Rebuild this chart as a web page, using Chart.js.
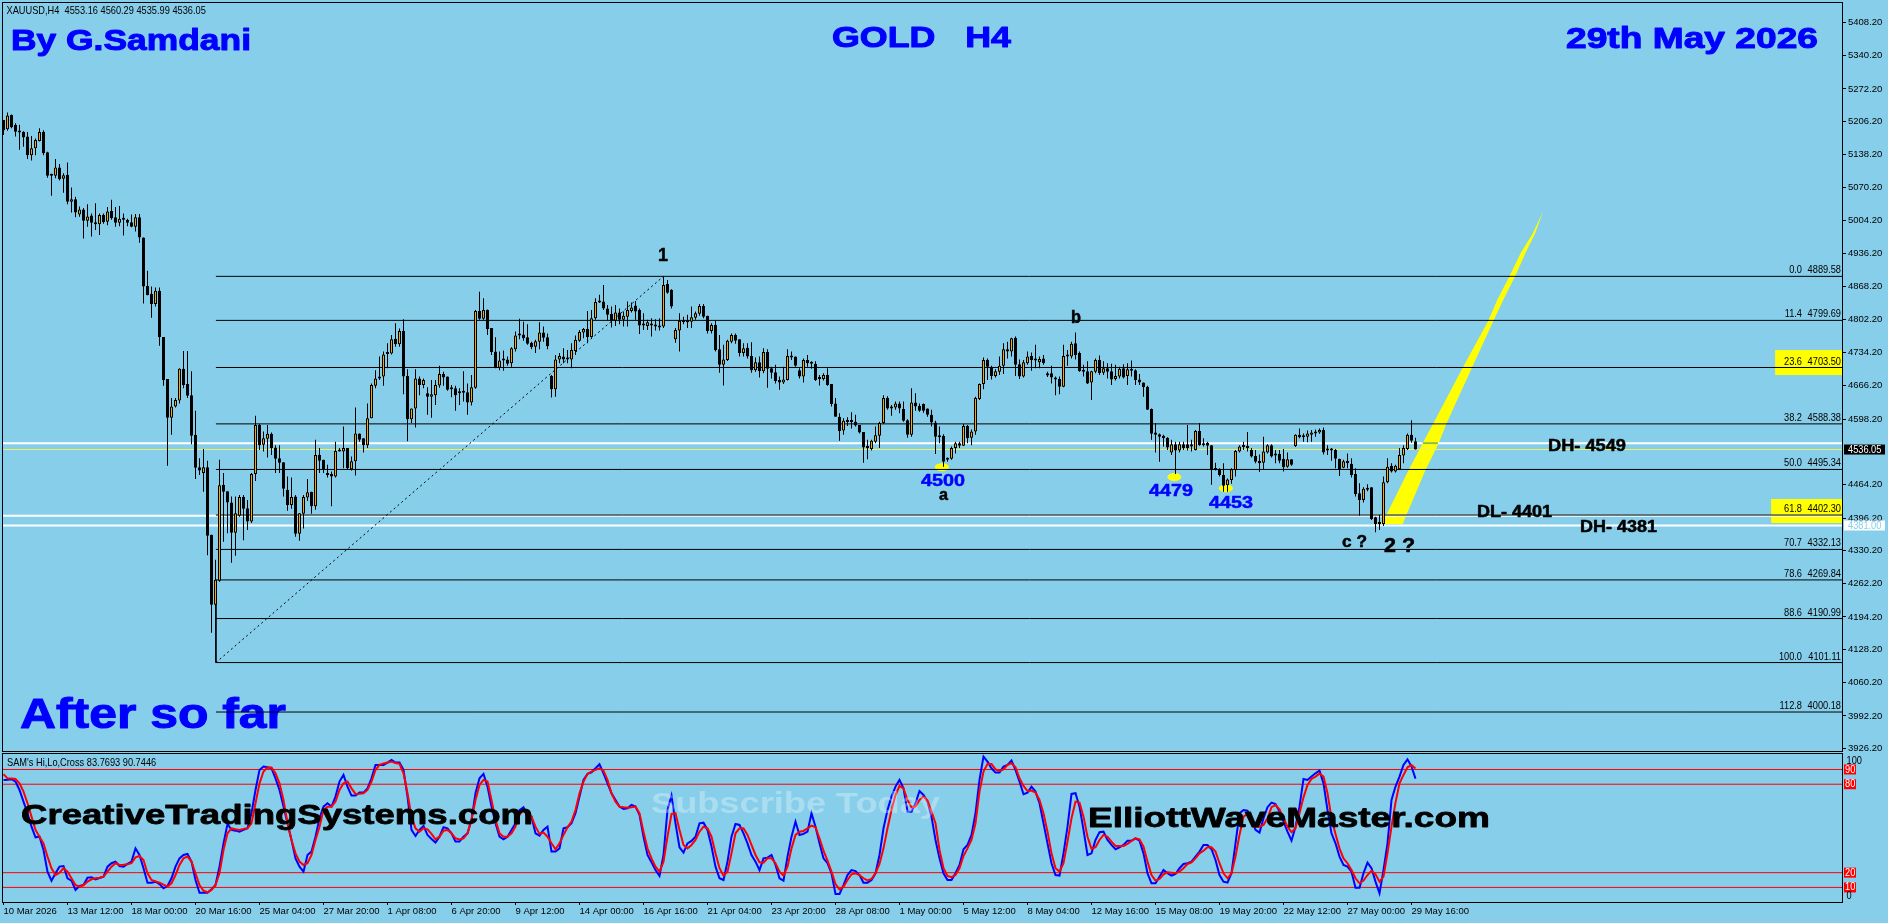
<!DOCTYPE html>
<html>
<head>
<meta charset="utf-8">
<title>GOLD H4</title>
<script src="https://cdn.jsdelivr.net/npm/chart.js@4/dist/chart.umd.min.js"></script>
<style>
  html, body { margin: 0; padding: 0; background: #87CEEB; overflow: hidden; }
  canvas { position: absolute; left: 0; }
  #priceChart { top: 0; }
  #hiLoChart { top: 752px; }
</style>
</head>
<body>
<canvas id="priceChart" width="1888" height="752"></canvas>
<canvas id="hiLoChart" width="1888" height="171"></canvas>
<script>
// 1. Data (one entry per H4 bar)
const opens = [
  5209,5190,5219,5199,5186,5185,5175,5137,5151,5166,5185,5143,5097,5095,5112,5089,
  5097,5042,5047,5016,5026,5003,5014,4999,4996,5015,5001,5023,5010,4999,5007,5005,
  5000,4991,5010,4969,4870,4854,4833,4860,4766,4680,4601,4624,4636,4701,4670,4647,
  4566,4500,4488,4500,4362,4219,4268,4464,4451,4428,4366,4401,4439,4416,4389,4486,
  4586,4546,4558,4568,4540,4518,4510,4454,4423,4440,4364,4405,4438,4450,4420,4525,
  4515,4486,4486,4481,4534,4532,4539,4496,4512,4569,4559,4545,4600,4666,4681,4685,
  4732,4732,4762,4751,4778,4686,4598,4620,4681,4668,4651,4644,4647,4667,4690,4685,
  4660,4661,4653,4653,4653,4632,4662,4819,4803,4821,4784,4736,4703,4720,4720,4712,
  4741,4769,4771,4765,4754,4746,4756,4775,4765,4686,4659,4720,4726,4724,4720,4737,
  4758,4775,4782,4766,4804,4838,4838,4824,4813,4799,4816,4801,4807,4819,4830,4821,
  4792,4788,4790,4788,4787,4787,4874,4862,4761,4779,4799,4797,4797,4805,4813,4829,
  4809,4778,4790,4741,4709,4719,4756,4770,4761,4733,4744,4727,4698,4714,4696,4735,
  4702,4694,4678,4673,4678,4727,4726,4698,4685,4719,4713,4711,4681,4680,4688,4670,
  4630,4603,4575,4595,4594,4593,4586,4572,4541,4537,4552,4564,4590,4641,4623,4622,
  4630,4619,4596,4566,4632,4625,4629,4620,4607,4591,4564,4564,4518,4517,4539,4549,
  4544,4584,4560,4573,4639,4670,4719,4705,4686,4695,4707,4741,4736,4764,4710,4685,
  4712,4727,4720,4714,4722,4692,4692,4682,4680,4664,4728,4726,4753,4733,4698,4696,
  4673,4695,4719,4693,4702,4696,4680,4685,4702,4686,4701,4698,4679,4673,4664,4619,
  4571,4567,4564,4560,4530,4547,4534,4547,4547,4547,4535,4574,4549,4550,4545,4498,
  4496,4484,4463,4474,4494,4532,4543,4543,4535,4523,4513,4509,4530,4545,4528,4527,
  4517,4501,4516,4543,4566,4564,4562,4566,4572,4571,4576,4535,4535,4535,4517,4499,
  4513,4507,4486,4447,4433,4454,4459,4398,4385,4384,4469,4503,4491,4496,4524,4537,
  4566,4553
];
const highs = [
  5209,5224,5220,5202,5199,5186,5184,5176,5171,5192,5188,5144,5099,5129,5119,5100,
  5122,5071,5052,5032,5029,5037,5018,5039,5018,5018,5031,5046,5031,5033,5018,5007,
  5016,5017,5017,4969,4901,4869,4867,4867,4766,4680,4641,4641,4702,4737,4737,4696,
  4615,4518,4537,4513,4362,4311,4515,4488,4451,4440,4440,4443,4443,4433,4488,4605,
  4588,4573,4586,4571,4545,4545,4510,4481,4479,4443,4406,4443,4476,4450,4556,4539,
  4515,4505,4491,4552,4539,4583,4539,4522,4622,4569,4559,4630,4671,4698,4726,4736,
  4753,4770,4794,4783,4802,4700,4620,4700,4685,4681,4663,4678,4678,4707,4695,4685,
  4668,4666,4661,4696,4671,4688,4821,4858,4845,4822,4784,4765,4736,4738,4726,4745,
  4777,4803,4797,4792,4756,4760,4796,4787,4773,4688,4729,4733,4743,4739,4753,4769,
  4780,4784,4819,4821,4845,4852,4872,4831,4828,4831,4824,4818,4838,4836,4839,4824,
  4814,4801,4804,4802,4804,4889,4882,4863,4784,4814,4807,4811,4828,4818,4833,4833,
  4809,4794,4799,4770,4750,4760,4773,4773,4761,4753,4753,4755,4724,4726,4743,4741,
  4705,4709,4685,4705,4741,4736,4726,4702,4722,4729,4716,4716,4688,4692,4702,4670,
  4641,4610,4600,4602,4612,4607,4586,4572,4556,4556,4583,4593,4647,4645,4627,4634,
  4634,4634,4598,4661,4651,4630,4630,4620,4617,4595,4583,4567,4520,4542,4552,4552,
  4588,4586,4577,4644,4671,4724,4722,4707,4700,4726,4753,4756,4764,4767,4720,4719,
  4736,4734,4750,4726,4729,4695,4707,4685,4685,4750,4739,4756,4775,4736,4709,4716,
  4697,4722,4728,4716,4712,4711,4709,4705,4710,4712,4718,4700,4690,4673,4666,4620,
  4590,4569,4566,4561,4556,4552,4552,4552,4586,4556,4576,4590,4559,4552,4545,4509,
  4498,4508,4477,4498,4535,4545,4552,4572,4539,4535,4526,4562,4547,4547,4535,4535,
  4537,4530,4516,4567,4579,4569,4575,4576,4577,4579,4581,4545,4539,4537,4517,4515,
  4528,4518,4498,4467,4459,4465,4459,4399,4403,4481,4518,4508,4505,4539,4545,4569,
  4596,4560
];
const lows = [
  5178,5187,5192,5175,5148,5154,5129,5126,5137,5165,5137,5091,5054,5090,5085,5060,
  5037,5020,5010,5011,4967,4991,4971,4984,4974,4997,4994,5005,4991,4992,4973,4992,
  4990,4981,4958,4834,4851,4805,4828,4748,4666,4503,4566,4622,4630,4661,4641,4547,
  4476,4484,4450,4320,4162,4219,4266,4348,4365,4305,4319,4399,4351,4372,4386,4472,
  4535,4532,4520,4525,4488,4488,4440,4411,4415,4358,4350,4375,4431,4405,4413,4488,
  4488,4479,4420,4479,4532,4498,4494,4493,4483,4552,4530,4539,4600,4661,4678,4666,
  4702,4730,4746,4746,4649,4553,4590,4581,4647,4661,4607,4601,4627,4662,4666,4656,
  4643,4615,4627,4634,4607,4626,4660,4801,4801,4770,4729,4702,4698,4697,4707,4705,
  4736,4761,4758,4750,4741,4733,4741,4756,4741,4642,4644,4712,4712,4712,4702,4729,
  4756,4763,4753,4764,4801,4835,4821,4799,4785,4788,4792,4787,4787,4816,4801,4772,
  4780,4780,4767,4779,4779,4784,4854,4824,4754,4736,4792,4784,4784,4801,4809,4804,
  4773,4773,4736,4693,4667,4717,4753,4752,4726,4726,4722,4693,4695,4683,4692,4662,
  4681,4671,4658,4670,4677,4719,4705,4681,4673,4705,4701,4676,4667,4677,4666,4624,
  4603,4554,4566,4584,4579,4583,4569,4509,4516,4534,4549,4539,4588,4617,4605,4617,
  4610,4593,4560,4562,4615,4613,4611,4603,4583,4527,4549,4501,4511,4515,4528,4539,
  4543,4549,4545,4566,4637,4659,4678,4679,4683,4688,4690,4722,4726,4686,4680,4683,
  4709,4697,4702,4702,4709,4684,4671,4647,4649,4663,4707,4722,4720,4695,4685,4670,
  4637,4692,4688,4688,4681,4668,4677,4681,4681,4668,4685,4668,4668,4644,4617,4556,
  4530,4511,4542,4535,4525,4486,4530,4535,4534,4532,4534,4544,4542,4525,4464,4493,
  4481,4450,4450,4466,4481,4530,4535,4532,4520,4508,4490,4496,4528,4520,4508,4508,
  4491,4499,4503,4541,4559,4552,4551,4552,4562,4568,4526,4525,4513,4498,4482,4498,
  4498,4479,4440,4401,4428,4451,4392,4367,4372,4380,4467,4489,4489,4494,4508,4535,
  4550,4536
];
const closes = [
  5188,5218,5194,5185,5183,5173,5137,5151,5168,5184,5141,5095,5095,5112,5088,5096,
  5042,5047,5020,5026,5003,5012,4999,4996,5015,5000,5022,5008,4999,5007,5005,4999,
  4991,5010,4969,4869,4851,4833,4860,4765,4678,4601,4624,4637,4701,4668,4646,4564,
  4499,4493,4500,4360,4219,4270,4463,4450,4428,4366,4406,4439,4415,4389,4486,4586,
  4545,4559,4568,4539,4517,4509,4456,4423,4439,4364,4406,4439,4449,4420,4525,4513,
  4496,4484,4481,4533,4532,4539,4498,4512,4569,4556,4545,4600,4668,4681,4685,4730,
  4731,4761,4751,4778,4685,4598,4620,4681,4668,4678,4644,4649,4668,4690,4683,4658,
  4659,4647,4651,4652,4632,4663,4819,4803,4821,4782,4735,4703,4718,4718,4711,4743,
  4769,4773,4763,4752,4745,4757,4775,4764,4747,4659,4720,4727,4720,4720,4739,4760,
  4776,4782,4766,4804,4837,4836,4824,4811,4799,4816,4801,4809,4821,4826,4818,4789,
  4789,4796,4789,4787,4785,4872,4856,4828,4780,4799,4796,4796,4806,4814,4829,4807,
  4778,4790,4739,4709,4720,4758,4770,4758,4733,4743,4726,4698,4714,4696,4735,4701,
  4693,4676,4673,4679,4727,4724,4707,4685,4719,4712,4711,4678,4680,4688,4668,4629,
  4603,4574,4595,4592,4592,4585,4571,4540,4539,4554,4565,4590,4641,4620,4620,4630,
  4620,4595,4566,4632,4624,4615,4615,4607,4591,4562,4561,4511,4515,4539,4549,4544,
  4584,4559,4573,4641,4670,4719,4705,4686,4696,4707,4741,4736,4763,4709,4685,4714,
  4726,4719,4718,4721,4712,4687,4683,4679,4664,4727,4726,4752,4729,4696,4695,4671,
  4696,4719,4692,4702,4695,4679,4686,4701,4683,4700,4697,4678,4673,4663,4617,4568,
  4566,4562,4559,4540,4547,4534,4547,4539,4539,4542,4574,4545,4545,4544,4494,4494,
  4484,4462,4475,4496,4533,4542,4541,4539,4522,4511,4508,4532,4545,4522,4524,4513,
  4500,4516,4505,4566,4561,4561,4569,4571,4569,4576,4530,4534,4534,4517,4496,4512,
  4508,4484,4445,4433,4456,4458,4394,4384,4384,4469,4501,4491,4503,4525,4539,4566,
  4554,4536
];

// blue line of the lower panel
const fastLine = [
  82.9,83.1,83.4,81.8,76.1,68.2,60.3,51.2,44,44.4,35.4,20.7,14.6,19.6,24.1,24.5,16.2,14.6,8.3,11,
  11.6,16.6,16.9,15.5,16.4,17.3,24.1,26.4,27.5,24.5,24.1,25.9,27.5,36.5,32,23,13.2,13.2,13.9,12.3,
  9.4,11,16.2,24.1,29.7,32,32.7,27.5,15,6.4,6.4,6.4,8.7,11.6,24.1,39.9,53,49,48.5,47.8,
  49,50.1,60.3,76.1,89.7,92,91.5,90.8,84,76.1,64.8,53.5,42.2,29.7,24.1,20.7,32,34.3,44.4,56.9,
  64.8,67.1,64.8,71.6,81.8,86.3,78.4,72.3,72.3,74.3,74.3,77.2,84,93.1,93.1,93.1,94.7,96.5,94.7,94.7,
  89.7,71.6,49,44.9,49,51.7,45.6,42.9,40.4,44.4,50.8,50.1,46.7,41.1,41.1,44.4,46.7,55.8,73.9,84,
  87,78.4,64.8,53.5,44.4,42.6,44.4,49,53.5,62.5,64.4,58,58,46.7,45.1,49,51.2,34.3,34.3,36.5,
  50.1,50.8,53.5,60.3,71.6,82.9,87,88.1,90.8,93.5,87.4,80.6,73.9,69.3,64.8,63.2,63.7,
  65.9,64.8,59.2,44.4,32,27,21.8,17.8,32,62.5,72.3,53.5,37.2,33.6,39.9,41.5,44.4,53.5,53.9,49,
  37.7,24.1,16.2,15,27.5,44.4,53,52.4,46.7,39.9,32,27.5,21.8,29.7,30.2,32,25.2,16.2,14.6,30.9,
  44.4,54.6,45.6,46.3,47.8,60.3,51.2,39.9,29.7,26.4,19.6,5.5,5.5,11.6,18.4,21.8,21.1,18.4,13.2,13.2,
  15,19.6,32,50.1,62.5,71.6,78.4,82.9,77.2,61.4,61.4,67.1,75.4,72.7,68.2,58,42.2,29.7,19.6,15,
  15,19.6,25.2,35.9,38.8,45.6,60.3,82.9,98.7,95.3,90.8,87.9,87.9,92,93.1,96,89.7,81.8,73.2,74.3,
  78.4,75,67.1,53.5,39.9,26.4,18.4,18,33.1,51.2,73.4,73.9,64.8,49,32,33.1,42.2,47.4,47.8,42.2,
  38.8,35.9,37.2,38.8,41.7,41.7,43.3,41.7,33.1,19.6,12.8,12.8,17.3,21.8,19.6,18,19.1,23,25.9,26.4,
  27.5,30.9,34.3,38.8,38.8,35.9,28.6,18.4,13.9,13.2,19.6,39.9,60.3,62.5,62.1,55.8,49,47.2,
  56.9,64.4,67.5,66.6,61.4,54.6,47.8,41.7,51.2,64.8,83.6,82.9,85.2,87.4,89.2,80.6,62.5,46.7,39.9,30.9,
  25.2,24.1,20.7,9.8,9.8,19.6,26.8,23,13.9,6,21.8,39.9,69.3,78.4,85.2,93.1,96.9,92,83.8
];
// red line of the lower panel
const slowLine = [
  86.8,84,83.8,83.6,80.6,75,67.1,58,49,44.4,39.9,30.9,23,18.4,20,23,20.7,16.2,11.6,10.5,
  11.6,13.9,15.5,16.2,16.6,17.3,20.7,24.1,26.4,25.2,25.4,25.7,26.4,30.4,31.3,28.6,19.6,15,14.1,13.2,
  11.9,10.5,12.8,18.4,25.2,29.7,30.9,27.5,19.6,11.6,7.8,6.7,8.3,11.6,19.6,35.4,46.7,50.1,49.4,49,
  49.7,50.1,53.5,67.1,80.6,88.6,91.3,91.3,87.4,80.6,69.3,53.5,42.2,33.1,27.5,25.2,26.4,32,42.2,51.2,
  62.5,64.8,64.8,68.2,76.1,80.6,81.8,77.2,73.4,73.6,73.9,76.1,81.8,89.7,93.1,94,94.7,95.3,94.4,93.8,
  87.4,73.9,58,50.1,47.8,50.1,49.4,46.3,42.6,44.4,48.5,49,46.7,43.3,42.6,43.3,46.7,55.8,69.3,79.5,
  82.9,81.8,69.3,55.8,46.7,44.4,44.4,46.7,51.2,59.2,62.5,62.1,58,51.2,46.3,47.2,44.4,39.9,35.9,39.9,
  45.6,50.8,54.6,62.5,73.9,81.8,87,88.6,89.7,90.8,89.2,82.9,73.9,68.2,64.8,64.4,64.1,
  64.4,64.8,60.3,47.8,36.5,29.7,24.1,20.7,27.5,44.4,59.8,60.3,49,38.8,36.5,38.8,42.2,47.8,51.2,50.1,
  44.4,33.1,23,18,20.7,33.1,46.7,50.1,50.1,45.6,38.8,32,27,26.8,29.7,29.7,26.4,20.7,18,24.1,
  36.5,45.6,47.8,48.3,50.1,51.9,50.8,43.3,34.9,28.2,20.7,12.3,8.7,10.5,15,18.9,19.6,18.4,16.2,14.8,
  15.7,19.6,25.9,36.5,50.1,62.5,72.7,78.8,77.2,69.3,64.4,64.8,69.3,71.6,68.9,61.4,53.5,35.4,23,17.8,
  16.9,18.4,23,31.3,36.5,42.2,53.5,75,88.6,93.8,93.8,90.1,89,90.1,93.1,94.2,91.5,84,78.8,75.4,
  75.7,74.3,69.3,60.3,47.8,33.1,23,20.7,26.4,41.1,56.9,68.2,67.5,58,44.4,36.1,37.2,42.2,45.6,44.4,
  41.1,38.1,38.1,38.1,39.5,41.5,43.3,42.6,37.7,27.5,18.4,14.6,15.7,18.9,20.2,20,19.6,20.7,23,25.9,
  27,29.7,33.1,34.9,37.2,37.2,34.3,26.4,19.6,16.2,19.6,30.9,45.6,58,59.8,56.2,51.2,51.2,
  52.4,56.9,64.4,65.9,63,56.9,51.2,47.4,50.1,60.3,71.1,79.5,83.6,85.2,87.2,85.2,73.9,56.9,46.3,36.5,
  29.7,26.4,21.8,16.2,12.8,14.6,18.4,21.4,18.9,13.9,17.3,33.1,51.2,67.5,80.6,86.3,91.5,93.1,90.7
];

// fibonacci levels
const fibPercents = ['0.0','11.4','23.6','38.2','50.0','61.8','70.7','78.6','88.6','100.0','112.8'];
const fibPrices = [4889.58,4799.69,4703.50,4588.38,4495.34,4402.30,4332.13,4269.84,4190.99,4101.11,4000.18];

// axis ticks
const priceTicks = [5408.2,5340.2,5272.2,5206.2,5138.2,5070.2,5004.2,4936.2,4868.2,4802.2,4734.2,4666.2,4598.2,
  4464.2,4396.2,4330.2,4262.2,4194.2,4128.2,4060.2,3992.2,3926.2];
const dateBars = [0,16,32,48,64,80,96,112,128,144,160,176,192,208,224,240,256,272,288,304,320,336,352];
const dateLabels = ['10 Mar 2026','13 Mar 12:00','18 Mar 00:00','20 Mar 16:00','25 Mar 04:00','27 Mar 20:00',
  '1 Apr 08:00','6 Apr 20:00','9 Apr 12:00','14 Apr 00:00','16 Apr 16:00','21 Apr 04:00','23 Apr 20:00',
  '28 Apr 08:00','1 May 00:00','5 May 12:00','8 May 04:00','12 May 16:00','15 May 08:00','19 May 20:00',
  '22 May 12:00','27 May 00:00','29 May 16:00'];

// other chart objects
const dayLevels = [4549, 4401, 4381];
const bidPrice = 4536.05;
const hiLoLevels = [90, 80, 20, 10];
const swingBars = [234.6, 292.7, 305.6];
const swingPrices = [4500, 4480, 4457];
const trendBars = [53.1, 165];
const trendPrices = [4101.11, 4889.58];
const wedgeBars = [344.3,345.8,351.3,354.8,357.5,364.8,371.2,373.4,376.5,379.3,382.3,384.9,
  382.9,380.5,377.9,374.9,372.5,367.1,360.8,358.8,355.5,350.8,349.8];
const wedgePrices = [4384,4404,4494,4549,4590,4703,4799,4841,4890,4937,4977,5022,
  4977,4937,4890,4841,4799,4703,4590,4549,4494,4404,4384];
const boxBars = [442.9, 441.9];
const boxTops = [4739, 4435];
const boxBottoms = [4688, 4386];

// 2. Shared settings
const xMin = -0.125;
const xMax = 459.875;
const subTop = 752;
const tickFont = { family: 'Liberation Sans', size: 9.5 };
const BLUE = '#0000FF';

Chart.defaults.font.family = 'Liberation Sans';
Chart.defaults.color = '#000';

// left, right and baseline are page pixels, the text is stretched to fit
const titleTexts = [
  { text: 'By G.Samdani', left: 11, right: 251, base: 49.5, size: 30, color: BLUE, heavy: 1 },
  { text: 'GOLD   H4', left: 832, right: 1011, base: 46.5, size: 30, color: BLUE, heavy: 1 },
  { text: '29th May 2026', left: 1566, right: 1818, base: 47.5, size: 30, color: BLUE, heavy: 1 },
  { text: '1', left: 658, right: 668, base: 261, size: 19, color: '#000', heavy: 0.5 },
  { text: 'b', left: 1071, right: 1081, base: 323, size: 18, color: '#000', heavy: 0.5 },
  { text: '4500', left: 921, right: 965, base: 486, size: 17, color: BLUE, heavy: 0.5 },
  { text: 'a', left: 939, right: 948, base: 500, size: 17, color: '#000', heavy: 0.5 },
  { text: '4479', left: 1149, right: 1193, base: 496, size: 17, color: BLUE, heavy: 0.5 },
  { text: '4453', left: 1209, right: 1253, base: 508, size: 17, color: BLUE, heavy: 0.5 },
  { text: 'c ?', left: 1342, right: 1367, base: 547, size: 17, color: '#000', heavy: 0.5 },
  { text: '2 ?', left: 1384, right: 1415, base: 552, size: 20, color: '#000', heavy: 0.5 },
  { text: 'DH- 4549', left: 1548, right: 1626, base: 451, size: 16, color: '#000', heavy: 0.5 },
  { text: 'DL- 4401', left: 1477, right: 1552, base: 517, size: 16, color: '#000', heavy: 0.5 },
  { text: 'DH- 4381', left: 1580, right: 1657, base: 532, size: 16, color: '#000', heavy: 0.5 }
];
const behindTexts = [
  { text: 'After so far', left: 20, right: 286, base: 728, size: 42, color: BLUE, heavy: 1 }
];
const subTexts = [
  { text: 'CreativeTradingSystems.com', left: 21, right: 533, base: 824, size: 28, color: '#000', heavy: 0.8 },
  { text: 'Subscribe Today', left: 651, right: 940, base: 813, size: 29, color: 'rgba(255,255,255,0.3)', heavy: 0 },
  { text: 'ElliottWaveMaster.com', left: 1088, right: 1490, base: 827, size: 28, color: '#000', heavy: 0.8 }
];

// 3. Drawing helpers
function drawFitted(ctx, item, offsetY) {
  ctx.save();
  ctx.font = 'bold ' + item.size + 'px "Liberation Sans"';
  ctx.textAlign = 'left';
  ctx.textBaseline = 'alphabetic';
  const measured = ctx.measureText(item.text).width;
  ctx.translate(item.left, item.base - offsetY);
  ctx.scale((item.right - item.left) / measured, 1);
  ctx.fillStyle = item.color;
  ctx.fillText(item.text, 0, 0);
  if (item.heavy) {
    ctx.strokeStyle = item.color;
    ctx.lineWidth = item.heavy;
    ctx.lineJoin = 'round';
    ctx.strokeText(item.text, 0, 0);
  }
  ctx.restore();
}

// small captions: 11px squeezed to the narrow look of the terminal font
function drawSmall(ctx, text, x, y, align, color) {
  ctx.save();
  ctx.font = '11px "Liberation Sans"';
  ctx.textAlign = align || 'left';
  ctx.textBaseline = 'middle';
  ctx.fillStyle = color || '#000';
  ctx.translate(x, y);
  ctx.scale(0.84, 1);
  ctx.fillText(text, 0, 0);
  ctx.restore();
}

function drawFrame(chart) {
  const a = chart.chartArea;
  const ctx = chart.ctx;
  ctx.save();
  ctx.strokeStyle = '#000';
  ctx.lineWidth = 1;
  ctx.strokeRect(a.left - 0.5, a.top - 0.5, a.right - a.left, a.bottom - a.top + 1);
  ctx.restore();
}

// 4. Plugins
const priceBackPlugin = {
  id: 'priceBack',
  beforeDatasetsDraw(chart) {
    const ctx = chart.ctx;
    const x = chart.scales.x;
    const y = chart.scales.y;
    ctx.save();
    ctx.fillStyle = '#FFFF00';
    boxBars.forEach((bar, i) => {
      const top = y.getPixelForValue(boxTops[i]);
      const left = x.getPixelForValue(bar);
      ctx.fillRect(left, top, chart.chartArea.right - left, y.getPixelForValue(boxBottoms[i]) - top);
    });
    swingBars.forEach((bar, i) => {
      ctx.beginPath();
      ctx.ellipse(x.getPixelForValue(bar), y.getPixelForValue(swingPrices[i]), 7, 4, 0, 0, Math.PI * 2);
      ctx.fill();
    });
    ctx.restore();
    behindTexts.forEach(item => drawFitted(ctx, item, 0));
  }
};

const priceFrontPlugin = {
  id: 'priceFront',
  afterDatasetsDraw(chart) {
    const ctx = chart.ctx;
    const y = chart.scales.y;
    const right = chart.chartArea.right;
    ctx.save();

    // fib level captions sit just above their lines
    fibPrices.forEach((price, i) => {
      const py = y.getPixelForValue(price) - 6;
      drawSmall(ctx, fibPercents[i], 1802, py, 'right');
      drawSmall(ctx, price.toFixed(2), 1841, py, 'right');
    });

    drawSmall(ctx, 'XAUUSD,H4  4553.16 4560.29 4535.99 4536.05', 6.5, 10.5);

    // price boxes on the right axis
    const bidY = y.getPixelForValue(bidPrice);
    ctx.fillStyle = '#000';
    ctx.fillRect(right + 1, bidY - 5, 41, 10);
    drawSmall(ctx, bidPrice.toFixed(2), right + 5, bidY, 'left', '#fff');

    const lowY = y.getPixelForValue(dayLevels[2]);
    ctx.fillStyle = '#fff';
    ctx.fillRect(right + 1, lowY - 5, 41, 10);
    drawSmall(ctx, dayLevels[2].toFixed(2), right + 5, lowY, 'left', '#87CEEB');
    ctx.restore();

    titleTexts.forEach(item => drawFitted(ctx, item, 0));
    drawFrame(chart);
  }
};

const hiLoFrontPlugin = {
  id: 'hiLoFront',
  afterDatasetsDraw(chart) {
    const ctx = chart.ctx;
    const y = chart.scales.y;
    const right = chart.chartArea.right;
    ctx.save();
    drawSmall(ctx, "SAM's Hi,Lo,Cross 83.7693 90.7446", 7, 10.5);
    hiLoLevels.forEach(level => {
      const py = y.getPixelForValue(level);
      ctx.fillStyle = '#FF0000';
      ctx.fillRect(right + 1, py - 5, 12, 10);
      drawSmall(ctx, String(level), right + 2, py, 'left', '#fff');
    });
    drawSmall(ctx, '100', right + 3.5, 8.7);
    drawSmall(ctx, '0', right + 3.5, 143.7);
    ctx.restore();
    subTexts.forEach(item => drawFitted(ctx, item, subTop));
    drawFrame(chart);
  }
};

// 5. Build the dataset lists
function flatLine(price, color, width, fromBar, order, dash) {
  return {
    type: 'line',
    data: [{ x: fromBar, y: price }, { x: xMax, y: price }],
    borderColor: color,
    borderWidth: width,
    borderDash: dash || [],
    pointRadius: 0,
    order: order
  };
}

const priceDatasets = [];

// yellow arrow
priceDatasets.push({
  type: 'line',
  data: wedgeBars.map((bar, i) => ({ x: bar, y: wedgePrices[i] })),
  borderWidth: 0,
  backgroundColor: '#FFFF00',
  fill: 'shape',
  pointRadius: 0,
  order: 9
});

priceDatasets.push(flatLine(bidPrice, '#EEF25A', 1, xMin, 8));
dayLevels.forEach(price => priceDatasets.push(flatLine(price, '#FFFFFF', 2, xMin, 7)));
fibPrices.forEach(price => priceDatasets.push(flatLine(price, '#000000', 1, trendBars[0], 6)));

// where the arrow crosses the DH line
priceDatasets.push({
  type: 'line',
  data: [{ x: 354.8, y: dayLevels[0] }, { x: 358.6, y: dayLevels[0] }],
  borderColor: '#8CBF2A',
  borderWidth: 2,
  pointRadius: 0,
  order: 5
});

// fib trend line and its left edge
priceDatasets.push({
  type: 'line',
  data: trendBars.map((bar, i) => ({ x: bar, y: trendPrices[i] })),
  borderColor: '#000',
  borderWidth: 1,
  borderDash: [2, 3],
  pointRadius: 0,
  order: 5
});
priceDatasets.push({
  type: 'line',
  data: [{ x: trendBars[0], y: fibPrices[7] }, { x: trendBars[0], y: fibPrices[9] }],
  borderColor: '#000',
  borderWidth: 1,
  pointRadius: 0,
  order: 5
});

// candles: wick and body are two floating bar sets
priceDatasets.push({
  type: 'bar',
  data: opens.map((o, i) => ({ x: i, y: [lows[i], highs[i]] })),
  backgroundColor: '#000',
  borderWidth: 0,
  barThickness: 1,
  grouped: false,
  inflateAmount: 0,
  order: 2
});
priceDatasets.push({
  type: 'bar',
  data: opens.map((o, i) => ({ x: i, y: [o, closes[i]] })),
  backgroundColor: opens.map((o, i) => (closes[i] >= o ? '#FFA500' : '#000')),
  borderColor: '#000',
  borderWidth: 1,
  borderSkipped: false,
  barThickness: 3,
  minBarLength: 2,
  grouped: false,
  inflateAmount: 0,
  order: 1
});

const hiLoDatasets = [];
hiLoLevels.forEach(level => hiLoDatasets.push(flatLine(level, '#FF0000', 1, xMin, 5)));
hiLoDatasets.push({
  type: 'line',
  data: fastLine.map((v, i) => ({ x: i, y: v })),
  borderColor: '#0000FF',
  borderWidth: 2,
  pointRadius: 0,
  order: 2
});
hiLoDatasets.push({
  type: 'line',
  data: slowLine.map((v, i) => ({ x: i, y: v })),
  borderColor: '#FF0000',
  borderWidth: 2,
  pointRadius: 0,
  order: 1
});

// 6. Create the charts
const sharedOptions = {
  responsive: false,
  animation: false,
  devicePixelRatio: 1,
  plugins: { legend: { display: false }, tooltip: { enabled: false } }
};

new Chart(document.getElementById('priceChart').getContext('2d'), {
  type: 'bar',
  data: { datasets: priceDatasets },
  options: {
    ...sharedOptions,
    layout: { padding: { left: 3, top: 3, right: 0, bottom: 1 } },
    scales: {
      x: { type: 'linear', display: false, min: xMin, max: xMax, offset: false },
      y: {
        type: 'linear',
        position: 'right',
        min: 3920.6,
        max: 5447.6,
        border: { display: false },
        grid: { drawOnChartArea: false, drawTicks: true, tickLength: 3, color: '#000' },
        ticks: {
          autoSkip: false,
          padding: 2,
          font: tickFont,
          color: '#000',
          callback: value => value.toFixed(2)
        },
        afterBuildTicks: scale => { scale.ticks = priceTicks.map(value => ({ value })); },
        afterFit: scale => { scale.width = 45; scale.paddingTop = 0; scale.paddingBottom = 0; }
      }
    }
  },
  plugins: [priceBackPlugin, priceFrontPlugin]
});

new Chart(document.getElementById('hiLoChart').getContext('2d'), {
  type: 'line',
  data: { datasets: hiLoDatasets },
  options: {
    ...sharedOptions,
    layout: { padding: { left: 3, top: 2, right: 0, bottom: 0 } },
    scales: {
      x: {
        type: 'linear',
        min: xMin,
        max: xMax,
        offset: false,
        border: { display: false },
        grid: { drawOnChartArea: false, drawTicks: true, tickLength: 3, color: '#000' },
        ticks: {
          autoSkip: false,
          maxRotation: 0,
          minRotation: 0,
          align: 'start',
          padding: 1,
          font: tickFont,
          color: '#000',
          callback: value => dateLabels[dateBars.indexOf(value)]
        },
        afterBuildTicks: scale => { scale.ticks = dateBars.map(value => ({ value })); },
        afterFit: scale => { scale.height = 21; scale.paddingLeft = 0; scale.paddingRight = 0; }
      },
      y: {
        type: 'linear',
        position: 'right',
        min: 0.1,
        max: 100.5,
        border: { display: false },
        grid: { drawOnChartArea: false, drawTicks: false },
        ticks: { display: false },
        afterFit: scale => { scale.width = 45; scale.paddingTop = 0; scale.paddingBottom = 0; }
      }
    }
  },
  plugins: [hiLoFrontPlugin]
});
</script>
</body>
</html>
